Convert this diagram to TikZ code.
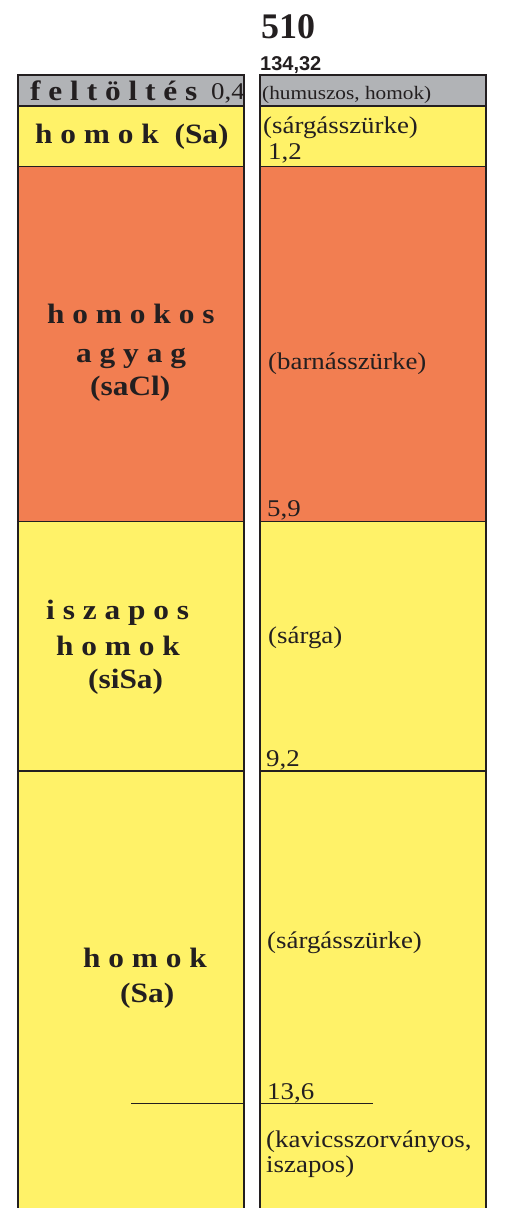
\documentclass[tikz,border=0pt]{standalone}
\usepackage{fontspec}
\setmainfont{Liberation Serif}
\newfontfamily\ser[FakeStretch=1.12]{Liberation Serif}
\newfontfamily\sansb{Liberation Sans}
\definecolor{ink}{HTML}{231F20}
\definecolor{grayl}{HTML}{B1B3B6}
\definecolor{yel}{HTML}{FFF268}
\definecolor{ora}{HTML}{F27E51}
\begin{document}
\begin{tikzpicture}[x=1pt,y=-1pt,
  lbl/.style={anchor=base west, inner sep=0pt, text=ink, font=\ser\fontsize{28}{30}\selectfont\bfseries},
  txt/.style={anchor=base west, inner sep=0pt, text=ink, font=\ser\fontsize{24}{26}\selectfont},
  small/.style={anchor=base west, inner sep=0pt, text=ink, font=\ser\fontsize{19}{21}\selectfont},
  border/.style={draw=ink, line width=1.2pt},
  thin/.style={draw=ink, line width=1pt}]
\useasboundingbox (0,0) rectangle (504,1208);
% fills
\foreach \xa/\xb in {18/244, 260/486}{
  \fill[grayl] (\xa,75) rectangle (\xb,106);
  \fill[yel] (\xa,106) rectangle (\xb,166.5);
  \fill[ora] (\xa,166.5) rectangle (\xb,521.5);
  \fill[yel] (\xa,521.5) rectangle (\xb,1210);
  \draw[border] (\xa,1212) -- (\xa,75) -- (\xb,75) -- (\xb,1212);
  \draw[border] (\xa,106) -- (\xb,106);
  \draw[border] (\xa,166.5) -- (\xb,166.5);
  \draw[border] (\xa,521.5) -- (\xb,521.5);
  \draw[border] (\xa,771) -- (\xb,771);
}
\draw[thin] (131,1103) -- (244,1103);
\draw[thin] (260,1103) -- (373,1103);
% header
\node[anchor=base west, inner sep=0pt, text=ink, font=\fontsize{36}{38}\selectfont\bfseries] (num) at (261,38) {510};
\node[anchor=base west, inner sep=0pt, text=ink, font=\sansb\fontsize{20}{22}\selectfont\bfseries] (elev) at (260,70) {134,32};
% left column
\node[lbl] (f1) at (30,100) {f e l t ö l t é s};
\node[txt] (d0) at (211,99) {0,4};
\node[lbl] (l1) at (35,143) {h o m o k~~(Sa)};
\node[lbl] (l2a) at (47,323) {h o m o k o s};
\node[lbl] (l2b) at (76,362) {a g y a g};
\node[lbl] (l2c) at (90,395) {(saCl)};
\node[lbl] (l3a) at (46,619) {i s z a p o s};
\node[lbl] (l3b) at (56,655) {h o m o k};
\node[lbl] (l3c) at (88,688) {(siSa)};
\node[lbl] (l4a) at (83,967) {h o m o k};
\node[lbl] (l4b) at (120,1002) {(Sa)};
% right column
\node[small] (r0) at (262,99) {(humuszos, homok)};
\node[txt] (r1) at (263,133) {(sárgásszürke)};
\node[txt] (d1) at (268,159) {1,2};
\node[txt] (r2) at (268,369) {(barnásszürke)};
\node[txt] (d2) at (267,516) {5,9};
\node[txt] (r3) at (268,643) {(sárga)};
\node[txt] (d3) at (266,766) {9,2};
\node[txt] (r4) at (267,948) {(sárgásszürke)};
\node[txt] (d4) at (267,1099) {13,6};
\node[txt] (r5a) at (266,1147) {(kavicsszorványos,};
\node[txt] (r5b) at (266,1172) {iszapos)};
\end{tikzpicture}
\end{document}
